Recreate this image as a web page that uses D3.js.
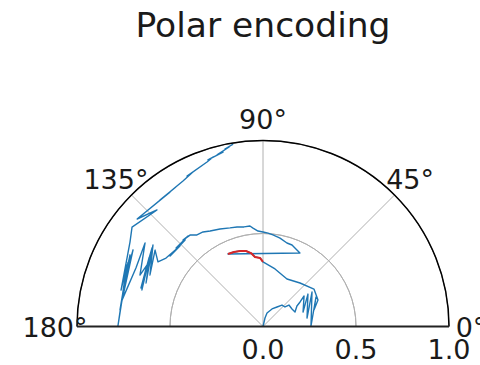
<!DOCTYPE html>
<html>
<head>
<meta charset="utf-8">
<script src="https://cdn.jsdelivr.net/npm/d3@7"></script>
<style>
  body { margin: 0; background: #fff; }
  text { font-family: "DejaVu Sans", sans-serif; fill: #1a1a1a; }
</style>
</head>
<body>
<svg id="chart" width="480" height="365"></svg>
<script>
// Walk path: angle in degrees (0 = east, counter-clockwise) and radius
const thetaDeg = [10, 76.8, 73.5, 62.8, 54.3, 48.5, 41.6, 39.6, 31.1, 24.4, 31.1, 33.5, 36.6, 19.9, 35.8, 10.9,
  35.1, 0.6, 29.1, 17.9, 25.7, 36.3, 49.6, 63.2, 78.2, 90, 92.5, 96.6, 99.3, 102.7, 106.9, 111.3, 115.8,
  63.3, 67.0, 70.4, 74.0, 79.1, 83.8, 86.9, 90, 93.0, 95.8, 97.4, 100.8, 104.6, 108.5, 113.8, 119.0, 122.4,
  125.8, 128.6, 132.8, 129.6, 137.9, 132.0, 142.8, 135.9, 144.8, 148.4, 144.7, 155.5, 143.5, 159.6, 147.7,
  163.2, 150.7, 144.7, 158.7, 146.4, 160.9, 149.0, 162.5, 152.1, 157.3, 144.7, 155.3, 169.4, 151.7,
  160.6, 149.5, 173.4, 154.5, 179.8, 155.7, 165.6, 147.6, 142.8, 132.3, 139.5, 124.7,
  129.2, 122.0, 124.2, 118.8, 114.4, 116.8, 108.8, 106.4, 108.3, 102.9, 105.0, 100.7, 102.1, 99.3];
const radius = [0, 0.047, 0.076, 0.106, 0.129, 0.154, 0.158, 0.181, 0.182, 0.189, 0.213, 0.239, 0.275, 0.229,
  0.298, 0.241, 0.322, 0.258, 0.326, 0.288, 0.328, 0.340, 0.307, 0.286, 0.316, 0.347, 0.369, 0.376, 0.400,
  0.416, 0.424, 0.430, 0.433, 0.442, 0.453, 0.465, 0.467, 0.484, 0.495, 0.503, 0.508, 0.514, 0.532, 0.545,
  0.545, 0.553, 0.559, 0.573, 0.587, 0.602, 0.607, 0.629, 0.633, 0.632, 0.630, 0.626, 0.627, 0.622, 0.638,
  0.663, 0.711, 0.668, 0.736, 0.671, 0.719, 0.680, 0.709, 0.731, 0.687, 0.723, 0.683, 0.715, 0.688, 0.706,
  0.717, 0.777, 0.752, 0.771, 0.812, 0.786, 0.811, 0.774, 0.804, 0.780, 0.803,
  0.788, 0.847, 0.884, 0.847, 0.890, 0.879, 0.877, 0.884, 0.881, 0.893, 0.912, 0.906, 0.934, 0.950, 0.943,
  0.962, 0.955, 0.982, 0.976, 0.994];

// Highlighted stretch of the walk
const highlightTheta = [90, 92.5, 96.6, 99.3, 102.7, 106.9, 111.3, 115.8];
const highlightRadius = [0.347, 0.369, 0.376, 0.400, 0.416, 0.424, 0.430, 0.433];

const angleTicks = [0, 45, 90, 135, 180];
const radialTicks = [0.0, 0.5, 1.0];
const title = "Polar encoding";

const svg = d3.select("#chart");
const cx = 263, cy = 326.5, R = 186;

const rScale = d3.scaleLinear().domain([0, 1]).range([0, R]);
// d3 angles start at 12 o'clock and run clockwise
const aScale = d3.scaleLinear().domain([0, 180]).range([Math.PI / 2, -Math.PI / 2]);

const g = svg.append("g").attr("transform", `translate(${cx},${cy})`);

// title
svg.append("text")
  .attr("x", 263).attr("y", 37)
  .attr("text-anchor", "middle")
  .attr("font-size", 34.5)
  .text(title);

// radial grid arcs
const ring = d3.arc().startAngle(-Math.PI / 2).endAngle(Math.PI / 2);
g.selectAll(".rgrid").data(radialTicks.filter(v => v > 0)).join("path")
  .attr("d", v => ring({ innerRadius: rScale(v), outerRadius: rScale(v) }))
  .attr("fill", "none").attr("stroke", "#b0b0b0").attr("stroke-width", 1);

// angular grid spokes
g.selectAll(".agrid").data(angleTicks).join("line")
  .attr("x1", 0).attr("y1", 0)
  .attr("x2", d => rScale(1) * Math.sin(aScale(d)))
  .attr("y2", d => -rScale(1) * Math.cos(aScale(d)))
  .attr("stroke", "#b0b0b0").attr("stroke-width", 1);

// data lines
const line = d3.lineRadial()
  .angle(d => aScale(d[0]))
  .radius(d => rScale(d[1]));

g.append("path")
  .datum(thetaDeg.map((t, i) => [t, radius[i]]))
  .attr("d", line)
  .attr("fill", "none").attr("stroke", "#1f77b4").attr("stroke-width", 1.4)
  .attr("stroke-linejoin", "round");

g.append("path")
  .datum(highlightTheta.map((t, i) => [t, highlightRadius[i]]))
  .attr("d", line)
  .attr("fill", "none").attr("stroke", "#d62728").attr("stroke-width", 2)
  .attr("stroke-linejoin", "round");

// spines
g.append("path")
  .attr("d", ring({ innerRadius: rScale(1), outerRadius: rScale(1) }))
  .attr("fill", "none").attr("stroke", "#000").attr("stroke-width", 1.5);
g.append("line")
  .attr("x1", rScale(1) * Math.sin(aScale(180))).attr("y1", 0)
  .attr("x2", rScale(1) * Math.sin(aScale(0))).attr("y2", 0)
  .attr("stroke", "#222").attr("stroke-width", 2);

// angle labels
const labR = R + 22;
g.selectAll(".alab").data(angleTicks).join("text")
  .attr("x", d => labR * Math.sin(aScale(d)))
  .attr("y", d => -labR * Math.cos(aScale(d)) + 10)
  .attr("text-anchor", "middle")
  .attr("font-size", 27)
  .text(d => d + "°");

// radius labels
g.selectAll(".rlab").data(radialTicks).join("text")
  .attr("x", d => rScale(d))
  .attr("y", 32.5)
  .attr("text-anchor", "middle")
  .attr("font-size", 27)
  .text(d => d.toFixed(1));
</script>
</body>
</html>
